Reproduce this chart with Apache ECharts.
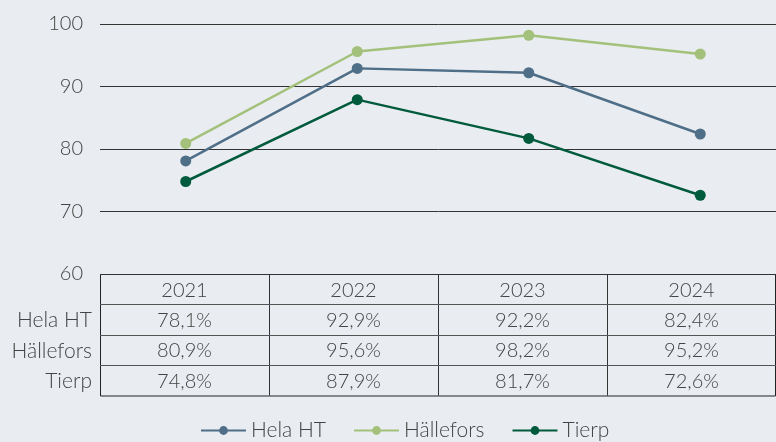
<!DOCTYPE html>
<html><head><meta charset="utf-8">
<script src="https://cdn.jsdelivr.net/npm/echarts@6/dist/echarts.min.js"></script>
<style>html,body{margin:0;padding:0;background:#E9ECF1;}#c{width:776px;height:442px;}</style>
</head><body><div id="c"></div>
<script>
const categories = ['2021', '2022', '2023', '2024'];
const seriesNames = ['Hela HT', 'Hällefors', 'Tierp'];
const helaHT = [78.1, 92.9, 92.2, 82.4];
const hallefors = [80.9, 95.6, 98.2, 95.2];
const tierp = [74.8, 87.9, 81.7, 72.6];
const yTicks = [60, 70, 80, 90, 100];

const colors = ['#4F6E87', '#A3C17A', '#005A3C'];
const values = [helaHT, hallefors, tierp];
const FONT = 'Lato';
const FW = 300;
const TXT = '#444';

const chart = echarts.init(document.getElementById('c'));
const fmt = v => v.toFixed(1).replace('.', ',') + '%';

const tL = 100, tR = 776, tT = 274, headH = 30, rowH = 30.5;
const colW = (tR - tL) / categories.length;
const tB = tT + headH + rowH * seriesNames.length;
const g = [];
const lineStyle = (c) => ({ stroke: c, lineWidth: 1 });
const font = (s) => FW + ' ' + s + 'px ' + FONT;
g.push({ type: 'rect', shape: { x: tL + 0.5, y: tT + 0.5, width: tR - tL - 1, height: tB - tT }, style: { fill: null, stroke: '#222', lineWidth: 1 } });
for (let i = 1; i < categories.length; i++) {
  const x = Math.round(tL + colW * i) + 0.5;
  g.push({ type: 'line', shape: { x1: x, y1: tT, x2: x, y2: tB }, style: lineStyle('#333') });
}
for (let r = 0; r < seriesNames.length; r++) {
  const y = Math.round(tT + headH + rowH * r) + 0.5;
  g.push({ type: 'line', shape: { x1: tL, y1: y, x2: tR, y2: y }, style: lineStyle('#555') });
}
categories.forEach((c, i) => {
  g.push({ type: 'text', x: tL + colW * (i + 0.5), y: tT + headH / 2 + 2, style: { text: c, fill: TXT, font: font(20), textAlign: 'center', textVerticalAlign: 'middle' } });
});
seriesNames.forEach((n, r) => {
  const cy = tT + headH + rowH * (r + 0.5) + 1;
  g.push({ type: 'text', x: 92, y: cy, style: { text: n, fill: TXT, font: font(21), textAlign: 'right', textVerticalAlign: 'middle' } });
  values[r].forEach((v, i) => {
    g.push({ type: 'text', x: tL + colW * (i + 0.5), y: cy, style: { text: fmt(v), fill: TXT, font: font(20), textAlign: 'center', textVerticalAlign: 'middle' } });
  });
});

chart.setOption({
  backgroundColor: '#E9ECF1',
  animation: false,
  grid: { left: 100, right: -10, top: 24, bottom: 168, outerBoundsMode: 'none' },
  xAxis: { type: 'category', data: categories, boundaryGap: true, axisLine: { show: false }, axisTick: { show: false }, axisLabel: { show: false }, splitLine: { show: false } },
  yAxis: {
    type: 'value', min: yTicks[0], max: yTicks[yTicks.length - 1], interval: 10,
    axisLine: { show: false }, axisTick: { show: false },
    axisLabel: { color: TXT, fontSize: 20, fontWeight: FW, fontFamily: FONT, margin: 17 },
    splitLine: { lineStyle: { color: '#333', width: 1 } }
  },
  legend: {
    top: 420, left: 200, padding: 0, itemWidth: 45, itemHeight: 11, itemGap: 27,
    textStyle: { color: TXT, fontSize: 21, fontWeight: FW, fontFamily: FONT }
  },
  series: seriesNames.map((n, i) => ({
    name: n, type: 'line', data: values[i], symbol: 'circle', symbolSize: 11,
    lineStyle: { width: 2.5, color: colors[i] }, itemStyle: { color: colors[i] }
  })),
  graphic: g
});
</script></body></html>
